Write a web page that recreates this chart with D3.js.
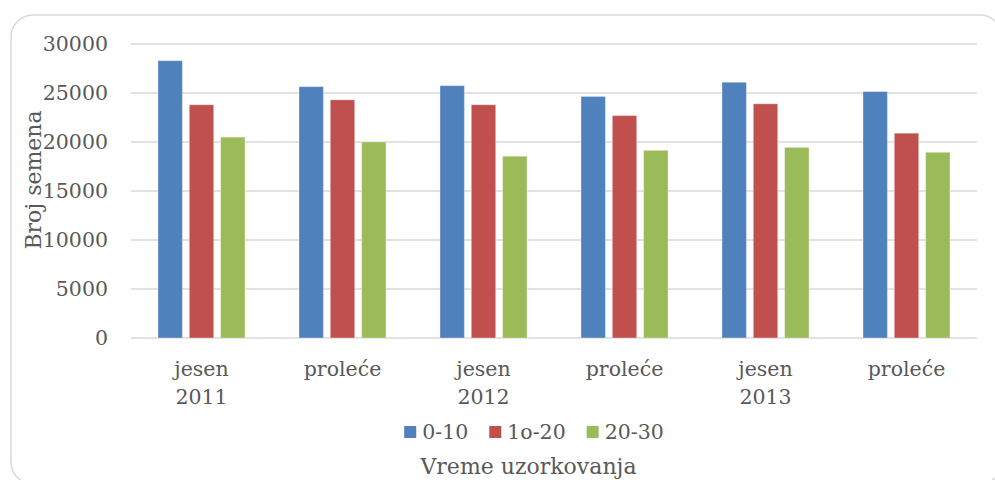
<!DOCTYPE html>
<html><head><meta charset="utf-8">
<script src="https://cdn.jsdelivr.net/npm/d3@7"></script>
<style>body{margin:0;background:#fff}svg{display:block}text{font-family:"DejaVu Serif",serif;fill:#595959}</style>
</head><body>
<svg id="c" width="995" height="480"></svg>
<script>
const categories = [["jesen","2011"],["proleće"],["jesen","2012"],["proleće"],["jesen","2013"],["proleće"]];
const seriesNames = ["0-10","1o-20","20-30"];
const s0_10 = [28300, 25650, 25750, 24650, 26100, 25150];
const s10_20 = [23800, 24300, 23800, 22700, 23900, 20900];
const s20_30 = [20500, 20000, 18550, 19150, 19450, 18950];
const colors = ["#4F81BD","#C0504D","#9BBB59"];
const yTicks = [0,5000,10000,15000,20000,25000,30000];
const yTitle = "Broj semena";
const xTitle = "Vreme uzorkovanja";

const values = [s0_10, s10_20, s20_30];
const svg = d3.select("#c");
const L = 131, R = 977, T = 44, B = 338;

// frame
svg.append("rect").attr("x",11).attr("y",15).attr("width",991).attr("height",469)
  .attr("rx",22).attr("fill","#fff").attr("stroke","#d9d9d9").attr("stroke-width",1.5);

const y = d3.scaleLinear().domain([0,30000]).range([B,T]);
const x0 = d3.scaleBand().domain(d3.range(categories.length)).range([L,R]).padding(0);
const x1 = d3.scaleBand().domain(d3.range(3)).range([27, x0.bandwidth()-27]).paddingInner(0.22).paddingOuter(0);

// gridlines
svg.append("g").selectAll("line").data(yTicks).join("line")
  .attr("x1",L).attr("x2",R).attr("y1",d=>y(d)).attr("y2",d=>y(d))
  .attr("stroke","#d9d9d9").attr("stroke-width",1.5);

// y tick labels
svg.append("g").selectAll("text").data(yTicks).join("text")
  .attr("x",108).attr("y",d=>y(d)).attr("dy","0.36em").attr("text-anchor","end")
  .attr("font-size",20.5).text(d=>d);

// bars
const g = svg.append("g");
categories.forEach((c,i)=>{
  values.forEach((s,j)=>{
    g.append("rect").attr("x",x0(i)+x1(j)).attr("width",x1.bandwidth())
     .attr("y",y(s[i])).attr("height",y(0)-y(s[i]))
     .attr("fill",colors[j]).attr("stroke","rgba(255,255,255,0.35)").attr("stroke-width",1);
  });
});

// x labels
const xl = svg.append("g");
categories.forEach((c,i)=>{
  const t = xl.append("text").attr("text-anchor","middle").attr("font-size",20.5)
    .attr("x",x0(i)+x0.bandwidth()/2).attr("y",376);
  c.forEach((line,k)=>t.append("tspan").attr("x",x0(i)+x0.bandwidth()/2).attr("dy",k?28:0).text(line));
});

// legend
const lg = svg.append("g");
let cx = 0;
seriesNames.forEach((n,j)=>{
  lg.append("rect").attr("x",cx).attr("y",426).attr("width",12).attr("height",12).attr("fill",colors[j]);
  const t = lg.append("text").attr("x",cx+18).attr("y",439).attr("font-size",20.5).text(n);
  const w = t.node().getComputedTextLength();
  cx += 18 + w + 21;
});
const lw = cx - 21;
lg.attr("transform",`translate(${534 - lw/2},0)`);

// axis titles
svg.append("text").attr("x",528.5).attr("y",474).attr("text-anchor","middle").attr("font-size",22).text(xTitle);
svg.append("text").attr("transform","translate(41,180) rotate(-90)").attr("text-anchor","middle").attr("font-size",22).text(yTitle);
</script>
</body></html>
